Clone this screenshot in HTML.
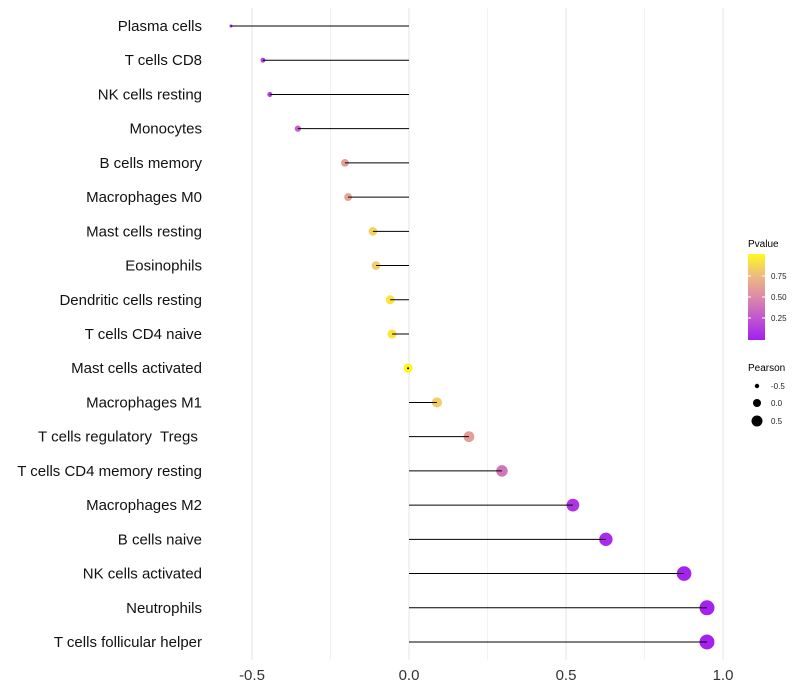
<!DOCTYPE html>
<html><head><meta charset="utf-8"><style>
body{margin:0;background:#fff;}
svg{display:block;font-family:"Liberation Sans",sans-serif;}
</style></head><body>
<svg id="chart" width="800" height="700">
<defs><linearGradient id="pg" x1="0" y1="1" x2="0" y2="0">
<stop offset="0" stop-color="#a31ff0"/><stop offset="0.25" stop-color="#c055d0"/><stop offset="0.5" stop-color="#dc8aa8"/><stop offset="0.75" stop-color="#eebb80"/><stop offset="1" stop-color="#fff820"/>
</linearGradient></defs>
<g id="grid"></g>
<g id="marks"></g>
<g id="ylab"></g>
<g id="xlab"></g>
<g>
<text x="748" y="247" font-size="10">Pvalue</text>
<rect x="748" y="254" width="17" height="86" fill="url(#pg)"/>
<g font-size="8" fill="#222">
<line x1="748" y1="276" x2="751" y2="276" stroke="#fff"/><line x1="762" y1="276" x2="765" y2="276" stroke="#fff"/>
<line x1="748" y1="297" x2="751" y2="297" stroke="#fff"/><line x1="762" y1="297" x2="765" y2="297" stroke="#fff"/>
<line x1="748" y1="318" x2="751" y2="318" stroke="#fff"/><line x1="762" y1="318" x2="765" y2="318" stroke="#fff"/>
<text x="771" y="279">0.75</text><text x="771" y="300">0.50</text><text x="771" y="321">0.25</text>
</g></g>
<g>
<text x="748" y="371" font-size="10">Pearson</text>
<circle cx="757" cy="386" r="2.2"/><circle cx="757" cy="403" r="4"/><circle cx="757" cy="421" r="5.5"/>
<g font-size="8" fill="#222"><text x="771" y="389">-0.5</text><text x="771" y="406">0.0</text><text x="771" y="424">0.5</text></g>
</g>
</svg>
<script>
const cells=["Plasma cells","T cells CD8","NK cells resting","Monocytes","B cells memory","Macrophages M0","Mast cells resting","Eosinophils","Dendritic cells resting","T cells CD4 naive","Mast cells activated","Macrophages M1","T cells regulatory  Tregs ","T cells CD4 memory resting","Macrophages M2","B cells naive","NK cells activated","Neutrophils","T cells follicular helper"];
const pearson=[-0.567,-0.465,-0.443,-0.354,-0.204,-0.194,-0.115,-0.105,-0.06,-0.054,-0.003,0.089,0.191,0.296,0.522,0.627,0.876,0.949,0.949];
const pvalue=[0.05,0.12,0.15,0.3,0.6,0.62,0.85,0.82,0.92,0.92,0.99,0.82,0.6,0.4,0.1,0.05,0.02,0.01,0.01];
const xticks=[-0.5,0,0.5,1.0];
const xtickLabels=["-0.5","0.0","0.5","1.0"];
const minorTicks=[-0.25,0.25,0.75];
const NS="http://www.w3.org/2000/svg";
const xs=v=>409+v*314;
const ys=i=>26+i*(616/18);
const rs=v=>Math.sqrt(Math.max(1.5,22.4+35.5*v));
const stops=[[0,[163,31,240]],[0.25,[192,85,208]],[0.5,[220,138,168]],[0.75,[238,187,128]],[1,[255,248,32]]];
function col(p){for(let k=1;k<stops.length;k++){if(p<=stops[k][0]){const a=stops[k-1],b=stops[k],t=(p-a[0])/(b[0]-a[0]);return "rgb("+a[1].map((c,j)=>Math.round(c+(b[1][j]-c)*t)).join(",")+")";}}return "rgb(255,248,32)";}
function mk(t,attrs,parent){const e=document.createElementNS(NS,t);for(const k in attrs)e.setAttribute(k,attrs[k]);parent.appendChild(e);return e;}
const grid=document.getElementById("grid"),marks=document.getElementById("marks"),yl=document.getElementById("ylab"),xl=document.getElementById("xlab");
minorTicks.forEach(v=>{const l=mk("line",{x1:xs(v),x2:xs(v),y1:8,y2:660,stroke:"#f2f2f2","stroke-width":1},grid);

});
xticks.forEach((v,i)=>{const l=mk("line",{x1:xs(v),x2:xs(v),y1:8,y2:660,stroke:"#e6e6e6","stroke-width":1},grid);


const t=mk("text",{x:xs(v),y:680,"font-size":15,"text-anchor":"middle",fill:"#333"},xl);t.textContent=xtickLabels[i];

});
cells.forEach((c,i)=>{const y=ys(i);
const d=mk("circle",{cx:xs(pearson[i]),cy:y,r:rs(pearson[i]),fill:col(pvalue[i])},marks);


const s=mk("line",{x1:xs(0),x2:xs(pearson[i]),y1:y,y2:y,stroke:"#000","stroke-width":1},marks);


if(Math.abs(pearson[i])<0.02){const dd=mk("circle",{cx:xs(pearson[i]),cy:y,r:1,fill:"#000"},marks);
}
const t=mk("text",{x:202,y:y+5,"font-size":15,"text-anchor":"end",fill:"#111"},yl);t.textContent=c;
t.setAttribute('style','white-space:pre');

});
</script>
</body></html>
